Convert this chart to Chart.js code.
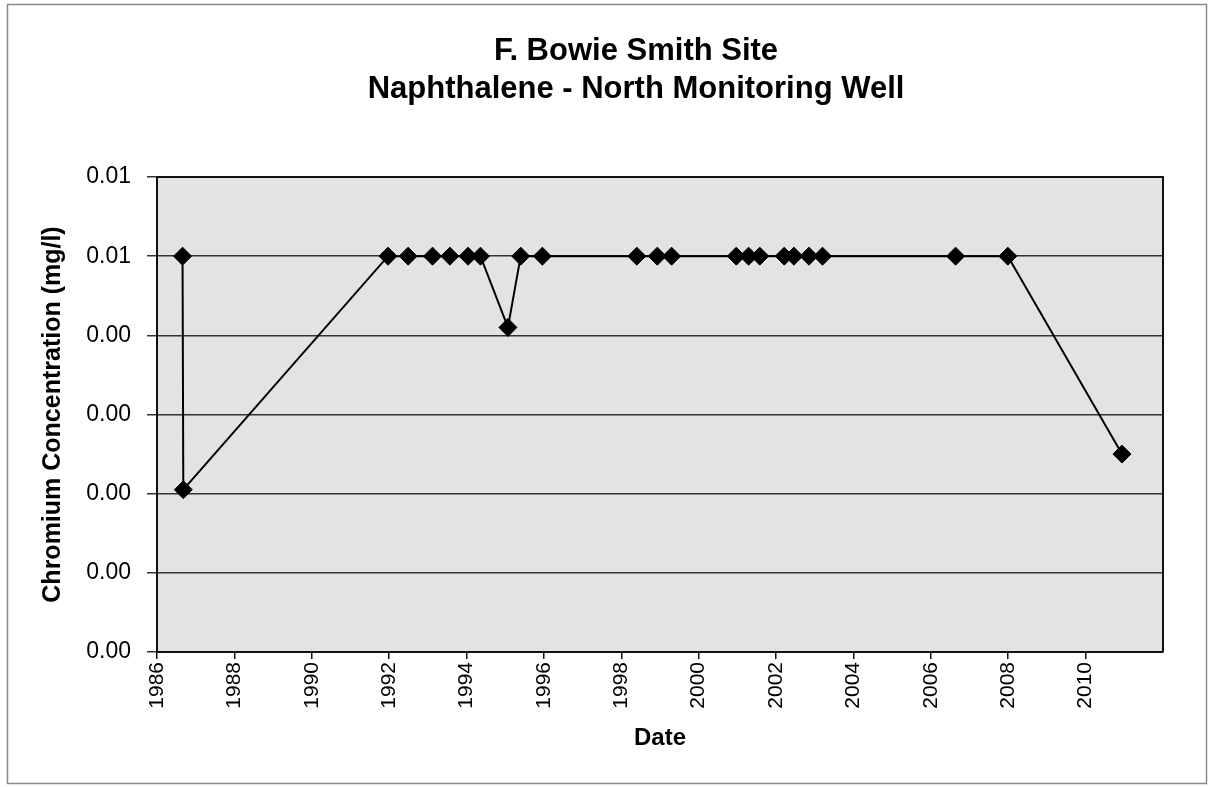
<!DOCTYPE html>
<html>
<head>
<meta charset="utf-8">
<title>F. Bowie Smith Site - Naphthalene</title>
<script src="https://cdn.jsdelivr.net/npm/chart.js@4.4.1/dist/chart.umd.min.js"></script>
<style>
  html, body { margin: 0; padding: 0; background: #ffffff; }
  canvas { display: block; }
</style>
</head>
<body>
<canvas id="chart" width="1209" height="787"></canvas>
<script>
// Chart text
const titleLines = ['F. Bowie Smith Site', 'Naphthalene - North Monitoring Well'];
const yAxisTitle = 'Chromium Concentration (mg/l)';
const xAxisTitle = 'Date';

// Sampling dates (decimal years) and measured concentrations (mg/l)
const sampleDates = [
  1986.66, 1986.68, 1991.97, 1992.49, 1993.12, 1993.57, 1994.04, 1994.36,
  1995.07, 1995.40, 1995.96, 1998.40, 1998.93, 1999.30, 2000.97, 2001.29,
  2001.58, 2002.21, 2002.46, 2002.85, 2003.20, 2006.64, 2007.99, 2010.94
];
const concentrations = [
  0.005, 0.00205, 0.005, 0.005, 0.005, 0.005, 0.005, 0.005,
  0.0041, 0.005, 0.005, 0.005, 0.005, 0.005, 0.005, 0.005,
  0.005, 0.005, 0.005, 0.005, 0.005, 0.005, 0.005, 0.0025
];

// Axis ticks
const yearTicks = [1986, 1988, 1990, 1992, 1994, 1996, 1998, 2000, 2002, 2004, 2006, 2008, 2010];
const yearRange = [1986, 2012];
const concentrationTicks = [0, 0.001, 0.002, 0.003, 0.004, 0.005, 0.006];

const FONT = "'Liberation Sans', Arial, Helvetica, sans-serif";

const points = sampleDates.map((d, i) => ({ x: d, y: concentrations[i] }));

// Grey plot-area fill
const plotBackground = {
  id: 'plotBackground',
  beforeDraw(chart) {
    const { ctx, chartArea: a } = chart;
    ctx.save();
    ctx.fillStyle = '#e3e3e3';
    ctx.fillRect(a.left, a.top, a.right - a.left, a.bottom - a.top);
    ctx.restore();
  }
};

// Plot border, outer frame and the two-line heading
const decorations = {
  id: 'decorations',
  afterDraw(chart) {
    const { ctx, chartArea: a } = chart;
    ctx.save();
    // plot area border (top and right)
    ctx.strokeStyle = '#111111';
    ctx.lineWidth = 2;
    ctx.beginPath();
    ctx.moveTo(a.left, a.top);
    ctx.lineTo(a.right, a.top);
    ctx.lineTo(a.right, a.bottom);
    ctx.stroke();
    // outer frame
    ctx.strokeStyle = '#8a8a8a';
    ctx.lineWidth = 1.5;
    ctx.strokeRect(7.5, 4.5, 1199, 779);
    // heading
    ctx.fillStyle = '#000000';
    ctx.font = 'bold 31px ' + FONT;
    ctx.textAlign = 'center';
    ctx.textBaseline = 'middle';
    ctx.fillText(titleLines[0], 636, 51);
    ctx.fillText(titleLines[1], 636, 89);
    ctx.restore();
  }
};

new Chart(document.getElementById('chart'), {
  type: 'scatter',
  data: {
    datasets: [{
      data: points,
      showLine: true,
      borderColor: '#000000',
      borderWidth: 2,
      tension: 0,
      pointStyle: 'rectRot',
      pointRadius: 9,
      pointHoverRadius: 9,
      pointBackgroundColor: '#000000',
      pointBorderColor: '#000000',
      pointBorderWidth: 1
    }]
  },
  options: {
    responsive: false,
    animation: false,
    devicePixelRatio: 1,
    layout: { padding: { top: 177, right: 46, left: 0, bottom: 0 } },
    plugins: {
      legend: { display: false },
      tooltip: { enabled: false },
      title: { display: false }
    },
    scales: {
      x: {
        type: 'linear',
        min: yearRange[0],
        max: yearRange[1],
        afterBuildTicks(scale) {
          scale.ticks = yearTicks.map(v => ({ value: v }));
        },
        afterFit(scale) { scale.height = 135; },
        ticks: {
          minRotation: 90,
          maxRotation: 90,
          padding: 3,
          color: '#000000',
          font: { family: FONT, size: 21 },
          callback: v => String(v)
        },
        grid: {
          drawOnChartArea: false,
          drawTicks: true,
          tickLength: 7,
          color: '#111111',
          lineWidth: 1.5
        },
        border: { display: true, color: '#111111', width: 2 },
        title: {
          display: true,
          text: xAxisTitle,
          color: '#000000',
          font: { family: FONT, size: 24, weight: 'bold' },
          padding: { top: 0, bottom: 34 }
        }
      },
      y: {
        min: concentrationTicks[0],
        max: concentrationTicks[concentrationTicks.length - 1],
        afterBuildTicks(scale) {
          scale.ticks = concentrationTicks.map(v => ({ value: v }));
        },
        afterFit(scale) { scale.width = 157; },
        ticks: {
          padding: 16,
          color: '#000000',
          font: { family: FONT, size: 23 },
          callback: v => Number(v).toFixed(2)
        },
        grid: {
          drawOnChartArea: true,
          drawTicks: true,
          tickLength: 10,
          color: '#333333',
          lineWidth: 1.5
        },
        border: { display: true, color: '#111111', width: 2 },
        title: {
          display: true,
          text: yAxisTitle,
          color: '#000000',
          font: { family: FONT, size: 25, weight: 'bold' },
          padding: { top: 38, bottom: 0 }
        }
      }
    }
  },
  plugins: [plotBackground, decorations]
});
</script>
</body>
</html>
